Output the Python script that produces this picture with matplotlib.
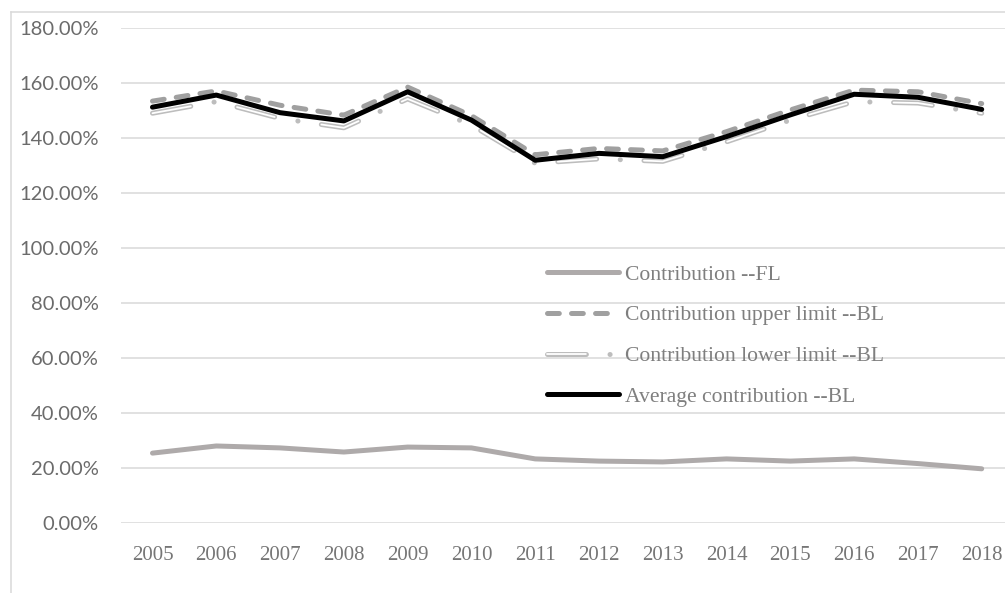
import matplotlib
matplotlib.use("Agg")
from matplotlib import pyplot as plt
from matplotlib.legend_handler import HandlerTuple
from matplotlib.lines import Line2D
from matplotlib.ticker import FuncFormatter

plt.rcParams['lines.scale_dashes'] = False

years = [2005, 2006, 2007, 2008, 2009, 2010, 2011, 2012, 2013, 2014, 2015, 2016, 2017, 2018]

# shares in percent
contribution_fl = [25.3, 27.9, 27.2, 25.7, 27.5, 27.2, 23.2, 22.4, 22.1, 23.2, 22.4, 23.2, 21.5, 19.6]
upper_bl = [153.3, 157.0, 151.8, 148.2, 158.4, 148.0, 133.8, 136.1, 135.2, 142.2, 150.1, 157.3, 156.7, 152.4]
lower_bl = [148.9, 153.1, 147.0, 143.6, 154.1, 144.6, 130.7, 132.3, 131.4, 138.5, 146.4, 153.1, 152.6, 148.9]
average_bl = [151.1, 155.5, 149.1, 146.1, 156.7, 146.4, 131.8, 134.3, 133.1, 140.4, 148.3, 155.8, 154.7, 150.3]

labels = ['Contribution --FL', 'Contribution upper limit --BL',
          'Contribution lower limit --BL', 'Average contribution --BL']

W, H = 1005, 593
fig = plt.figure(figsize=(W / 100, H / 100), dpi=100)
ax = fig.add_axes([120.6 / W, (H - 522.7) / H, 893 / W, 495 / H])

x = list(range(len(years)))
lw = 3.6

l_fl, = ax.plot(x, [v / 100 for v in contribution_fl], color='#AEAAAA', lw=lw,
                solid_capstyle='round', solid_joinstyle='round', zorder=3)
l_up, = ax.plot(x, [v / 100 for v in upper_bl], color='#A0A0A0', lw=lw,
                dashes=(8.5, 8.8), dash_capstyle='round', dash_joinstyle='round', zorder=4)
# lower limit: gray outline with a white core, long dash / dot pattern
l_lo_out, = ax.plot(x, [v / 100 for v in lower_bl], color='#BDBDBD', lw=lw,
                    dashes=(28, 17, 0.1, 17), dash_capstyle='round', zorder=3.5)
l_lo_in, = ax.plot(x, [v / 100 for v in lower_bl], color='white', lw=1.3,
                   dashes=(28, 34.1), dash_capstyle='round', zorder=3.6)
l_avg, = ax.plot(x, [v / 100 for v in average_bl], color='black', lw=lw,
                 solid_capstyle='round', solid_joinstyle='round', zorder=5)

ax.set_xlim(-0.5, len(years) - 0.5)
ax.set_ylim(0, 1.8)
ax.set_yticks([i * 0.2 for i in range(10)])
ax.yaxis.set_major_formatter(FuncFormatter(lambda v, p: f'{v * 100:.2f}%'))
ax.set_xticks(x)
ax.set_xticklabels([str(y) for y in years])

ax.grid(axis='y', color='#D9D9D9', lw=1.1, zorder=0)
ax.set_axisbelow(True)
for s in ax.spines.values():
    s.set_visible(False)
ax.tick_params(axis='both', length=0)
ax.tick_params(axis='y', pad=16, labelsize=14.5, labelcolor='#6B6B6B')
ax.tick_params(axis='x', pad=16.5, labelsize=15, labelcolor='#767676')
for t in ax.get_yticklabels():
    t.set_fontfamily('Lato')
for t in ax.get_xticklabels():
    t.set_fontfamily('Liberation Serif')

leg = fig.legend([l_fl, l_up, (l_lo_out, l_lo_in), l_avg], labels,
                 handler_map={tuple: HandlerTuple(ndivide=1)},
                 loc='upper left', bbox_to_anchor=(547 / W, 1 - 264.5 / H),
                 bbox_transform=fig.transFigure, frameon=False,
                 borderpad=0, borderaxespad=0, handlelength=3.3,
                 handletextpad=0.3, labelspacing=0.95,
                 prop={'family': 'Liberation Serif', 'size': 15.6}, labelcolor='#7F7F7F')

# outer chart frame (left and top edges)
fig.add_artist(Line2D([11 / W, 11 / W], [0, 1 - 11.7 / H], color='#D9D9D9', lw=1.1))
fig.add_artist(Line2D([11 / W, 1], [1 - 11.7 / H, 1 - 11.7 / H], color='#D9D9D9', lw=1.1))

fig.savefig('out.png', dpi=100)
